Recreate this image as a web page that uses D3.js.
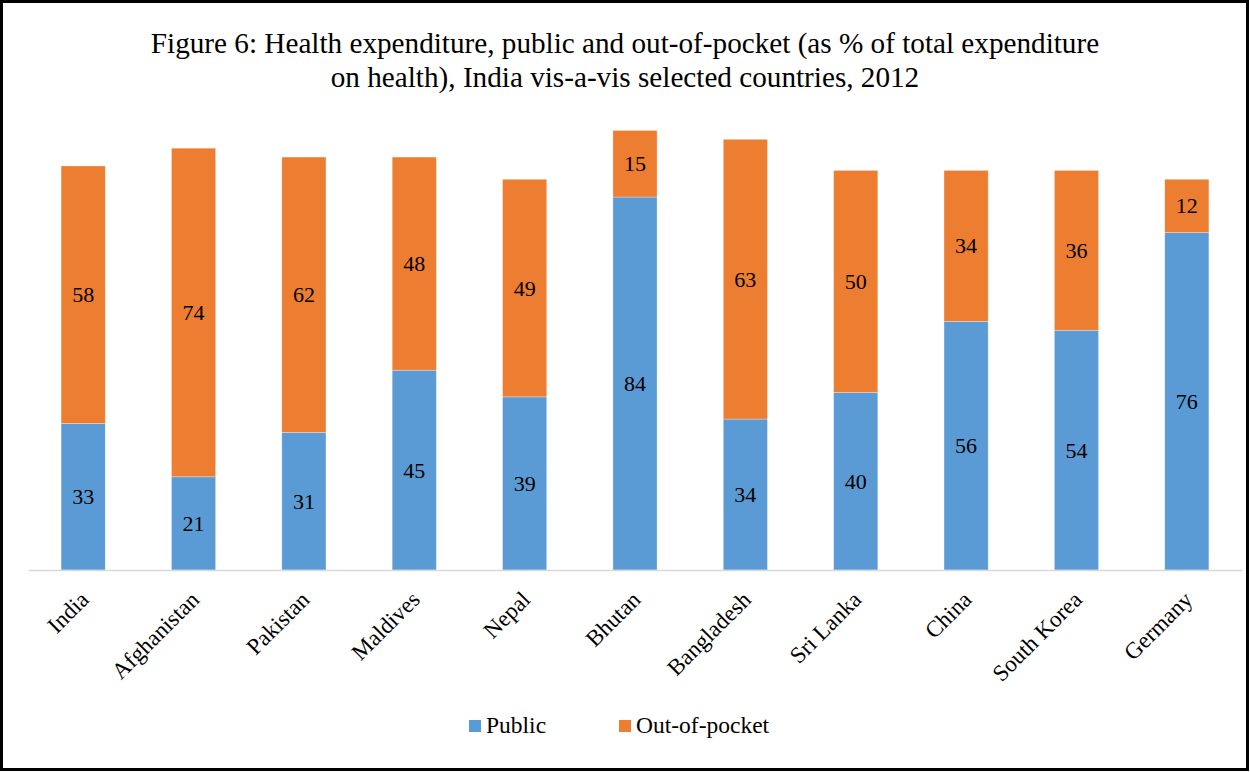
<!DOCTYPE html>
<html><head><meta charset="utf-8">
<script src="https://cdn.jsdelivr.net/npm/d3@7"></script>
<style>body{margin:0;background:#fff}svg{display:block}</style>
</head><body>
<svg id="c" width="1250" height="772"></svg>
<script>
const categories = ["India","Afghanistan","Pakistan","Maldives","Nepal","Bhutan","Bangladesh","Sri Lanka","China","South Korea","Germany"];
const publicValues = [33,21,31,45,39,84,34,40,56,54,76];
const outOfPocketValues = [58,74,62,48,49,15,63,50,34,36,12];
const seriesNames = ["Public","Out-of-pocket"];
const colors = ["#5B9BD5","#ED7D31"];
const titleLines = ["Figure 6: Health expenditure, public and out-of-pocket (as % of total expenditure","on health), India vis-a-vis selected countries, 2012"];

const svg = d3.select("#c");
const W = 1250, H = 772;
const font = "'Liberation Serif','Times New Roman',serif";
svg.append("rect").attr("x",1.5).attr("y",1.5).attr("width",W-4).attr("height",H-4)
  .attr("fill","#fff").attr("stroke","#000").attr("stroke-width",3);

svg.selectAll("text.title").data(titleLines).enter().append("text")
  .attr("x",625).attr("y",(d,i)=>53+i*34).attr("text-anchor","middle")
  .attr("font-family",font).attr("font-size",29.2).attr("fill","#000").text(d=>d);

const x = d3.scaleBand().domain(categories).range([28,1242]).paddingInner(0.6).paddingOuter(0.3);
const y = d3.scaleLinear().domain([0,100]).range([570,126]);

const rows = categories.map((c,i)=>({cat:c, pub:publicValues[i], oop:outOfPocketValues[i]}));
const stack = d3.stack().keys(["pub","oop"])(rows);

const g = svg.append("g");
stack.forEach((layer,li)=>{
  g.selectAll(null).data(layer).enter().append("rect")
    .attr("x",d=>x(d.data.cat)).attr("width",x.bandwidth())
    .attr("y",d=>y(d[1])).attr("height",d=>y(d[0])-y(d[1]))
    .attr("fill",colors[li]).attr("stroke","#fff").attr("stroke-opacity",0.4).attr("stroke-width",0.75);
  g.selectAll(null).data(layer).enter().append("text")
    .attr("x",d=>x(d.data.cat)+x.bandwidth()/2)
    .attr("y",d=>(y(d[0])+y(d[1]))/2+7.5)
    .attr("text-anchor","middle").attr("font-family",font).attr("font-size",22).attr("fill","#000")
    .text(d=>d[1]-d[0]);
});

const axis = d3.axisBottom(x).tickSize(0).tickPadding(0);
const ax = svg.append("g").attr("transform","translate(0,570)").call(axis);
ax.select(".domain").attr("stroke","#d9d9d9").attr("stroke-width",1.5);
ax.selectAll(".tick text").attr("font-family",font).attr("font-size",23).attr("fill","#000")
  .attr("text-anchor","end").attr("dy",0).attr("y",0)
  .attr("transform","translate(7,31) rotate(-45)");

const leg = svg.append("g");
const legX = [469,619];
seriesNames.forEach((n,i)=>{
  leg.append("rect").attr("x",legX[i]).attr("y",720).attr("width",12).attr("height",12).attr("fill",colors[i]);
  leg.append("text").attr("x",legX[i]+17).attr("y",733).attr("font-family",font).attr("font-size",23.5).attr("fill","#000").text(n);
});
</script>
</body></html>
